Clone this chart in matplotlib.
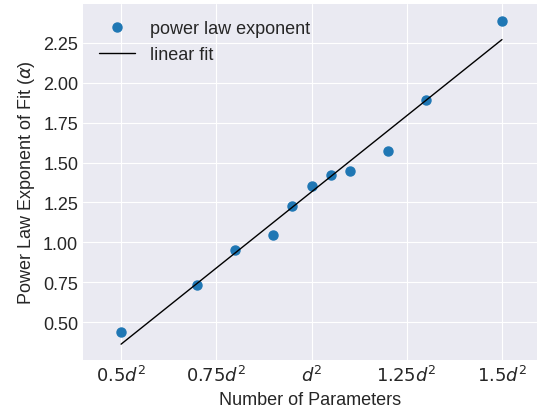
import numpy as np
import matplotlib
matplotlib.use('Agg')
import matplotlib.pyplot as plt

# data
n_params = [0.5, 0.7, 0.8, 0.9, 0.95, 1.0, 1.05, 1.1, 1.2, 1.3, 1.5]
exponent = [0.44, 0.73, 0.955, 1.045, 1.225, 1.355, 1.42, 1.45, 1.575, 1.895, 2.39]
xtick_pos = [0.5, 0.75, 1.0, 1.25, 1.5]
xtick_lab = [r'$0.5d^2$', r'$0.75d^2$', r'$d^2$', r'$1.25d^2$', r'$1.5d^2$']
ytick_pos = [0.5, 0.75, 1.0, 1.25, 1.5, 1.75, 2.0, 2.25]


def main():
    plt.style.use('seaborn-v0_8-darkgrid')
    plt.rcParams['font.family'] = ['Liberation Sans', 'DejaVu Sans']
    plt.rcParams['font.size'] = 13

    fig = plt.figure(figsize=(5.37, 4.10), dpi=100)
    axs = fig.add_axes([83/537, 49/410, 454/537, 356/410])

    x = np.array(n_params)
    y = np.array(exponent)
    coef = np.polyfit(x, y, 1)

    axs.plot(x, y, 'o', color='#1f77b4', markersize=6.5, label='power law exponent')
    axs.plot(x, np.polyval(coef, x), '-', color='black', lw=1, label='linear fit')

    axs.set_xticks(xtick_pos)
    axs.set_yticks(ytick_pos)
    axs.set_xlim(0.4, 1.592)
    axs.set_ylim(0.2625, 2.494)
    axs.tick_params(labelsize=13)
    axs.set_xticklabels(xtick_lab, fontsize=13)

    axs.set_xlabel('Number of Parameters', fontsize=13)
    axs.set_ylabel(r'Power Law Exponent of Fit ($\alpha$)', fontsize=13)
    axs.legend(loc='upper left', fontsize=13, frameon=False)

    fig.savefig('out.png', dpi=100)


if __name__ == '__main__':
    main()
